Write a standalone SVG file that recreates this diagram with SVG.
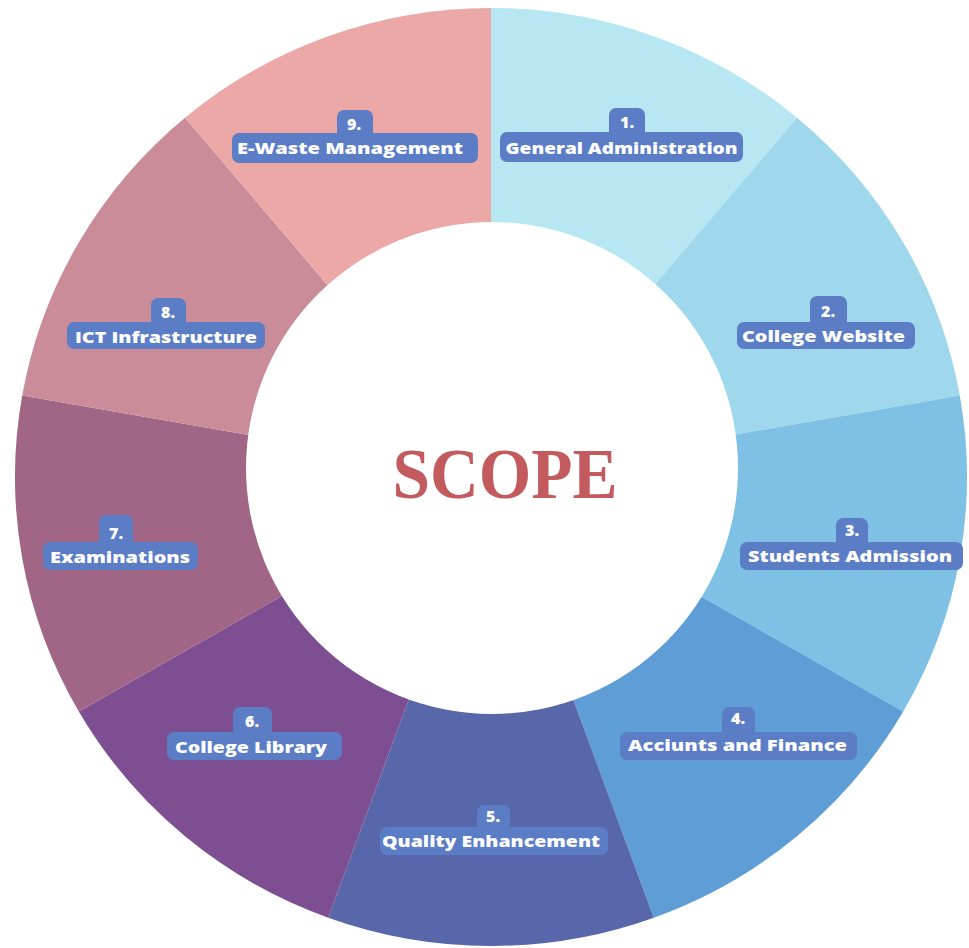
<svg xmlns="http://www.w3.org/2000/svg" width="969" height="948" viewBox="0 0 969 948">
<style>
.lbl{fill:#5b7dc6}
.t{font-family:"Open Sans","Noto Sans","Liberation Sans",sans-serif;font-weight:800;fill:#ffffff;text-anchor:middle;font-size:16px}
.n{font-family:"Open Sans","Noto Sans","Liberation Sans",sans-serif;font-weight:800;fill:#ffffff;text-anchor:middle;font-size:16px}
.title{font-family:"Liberation Serif","Times New Roman",serif;font-weight:bold;fill:#c35a5e;text-anchor:middle;font-size:72px}
</style>
<rect width="969" height="948" fill="#ffffff"/>
<g id="segments">
<g id="seg1"><path d="M491,477 L491,8 A476,469 0 0 1 797,117.7 Z" fill="#b6e7f3"/></g>
<g id="seg2"><path d="M491,477 L797,117.7 A476,469 0 0 1 959.8,395.6 Z" fill="#9fd7ed"/></g>
<g id="seg3"><path d="M491,477 L959.8,395.6 A476,469 0 0 1 903.2,711.5 Z" fill="#7ec1e4"/></g>
<g id="seg4"><path d="M491,477 L903.2,711.5 A476,469 0 0 1 653.8,917.7 Z" fill="#5e9dd6"/></g>
<g id="seg5"><path d="M491,477 L653.8,917.7 A476,469 0 0 1 328.2,917.7 Z" fill="#5767aa"/></g>
<g id="seg6"><path d="M491,477 L328.2,917.7 A476,469 0 0 1 78.8,711.5 Z" fill="#7e4e92"/></g>
<g id="seg7"><path d="M491,477 L78.8,711.5 A476,469 0 0 1 22.2,395.6 Z" fill="#a16685"/></g>
<g id="seg8"><path d="M491,477 L22.2,395.6 A476,469 0 0 1 185,117.7 Z" fill="#ca8c99"/></g>
<g id="seg9"><path d="M491,477 L185,117.7 A476,469 0 0 1 491,8 Z" fill="#eba8a7"/></g>
</g>
<g id="center">
<circle cx="492" cy="468" r="246" fill="#ffffff"/>
<text class="title" x="505" y="498" textLength="225" lengthAdjust="spacingAndGlyphs">SCOPE</text>
</g>
<g id="node1">
<rect class="lbl" x="609" y="108" width="36" height="34" rx="7"/>
<rect class="lbl" x="500" y="132" width="243" height="30" rx="7"/>
<text class="n" x="627" y="128">1.</text>
<text class="t" x="621.5" y="154" textLength="232" lengthAdjust="spacingAndGlyphs">General Administration</text>
</g>
<g id="node2">
<rect class="lbl" x="810" y="296" width="37" height="34" rx="7"/>
<rect class="lbl" x="737" y="322" width="178" height="27" rx="7"/>
<text class="n" x="828" y="317">2.</text>
<text class="t" x="823.5" y="342" textLength="163" lengthAdjust="spacingAndGlyphs">College Website</text>
</g>
<g id="node3">
<rect class="lbl" x="836" y="518" width="32" height="34" rx="7"/>
<rect class="lbl" x="740" y="542" width="223" height="28" rx="7"/>
<text class="n" x="852" y="536">3.</text>
<text class="t" x="850" y="562" textLength="204" lengthAdjust="spacingAndGlyphs">Students Admission</text>
</g>
<g id="node4">
<rect class="lbl" x="722" y="707" width="33" height="34" rx="7"/>
<rect class="lbl" x="620" y="732" width="237" height="28" rx="7"/>
<text class="n" x="738" y="724">4.</text>
<text class="t" x="737.5" y="751" textLength="219" lengthAdjust="spacingAndGlyphs">Acciunts and Finance</text>
</g>
<g id="node5">
<rect class="lbl" x="477" y="805" width="33" height="34" rx="7"/>
<rect class="lbl" x="380" y="827" width="228" height="28" rx="7"/>
<text class="n" x="493" y="822">5.</text>
<text class="t" x="491" y="847" textLength="218" lengthAdjust="spacingAndGlyphs">Quality Enhancement</text>
</g>
<g id="node6">
<rect class="lbl" x="233" y="707" width="39" height="34" rx="7"/>
<rect class="lbl" x="167" y="732" width="175" height="28" rx="7"/>
<text class="n" x="252" y="727">6.</text>
<text class="t" x="251" y="753" textLength="152" lengthAdjust="spacingAndGlyphs">College Library</text>
</g>
<g id="node7">
<rect class="lbl" x="99" y="515" width="34" height="34" rx="7"/>
<rect class="lbl" x="43" y="542" width="155" height="28" rx="7"/>
<text class="n" x="116" y="539">7.</text>
<text class="t" x="120" y="563" textLength="140" lengthAdjust="spacingAndGlyphs">Examinations</text>
</g>
<g id="node8">
<rect class="lbl" x="151" y="298" width="35" height="34" rx="7"/>
<rect class="lbl" x="67" y="322" width="198" height="27" rx="7"/>
<text class="n" x="168" y="318">8.</text>
<text class="t" x="166" y="343" textLength="182" lengthAdjust="spacingAndGlyphs">ICT Infrastructure</text>
</g>
<g id="node9">
<rect class="lbl" x="337" y="110" width="36" height="34" rx="7"/>
<rect class="lbl" x="232" y="133" width="246" height="30" rx="7"/>
<text class="n" x="354" y="130">9.</text>
<text class="t" x="350" y="154" textLength="226" lengthAdjust="spacingAndGlyphs">E-Waste Management</text>
</g>
<g id="connectors"/>
</svg>
